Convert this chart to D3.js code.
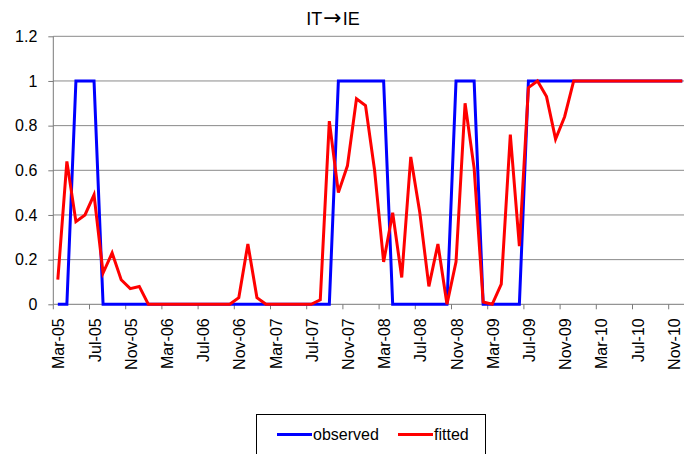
<!DOCTYPE html>
<html>
<head>
<meta charset="utf-8">
<script src="https://cdn.jsdelivr.net/npm/d3@7"></script>
<style>
  html, body { margin: 0; padding: 0; background: #fff; }
  svg { display: block; font-family: "Liberation Sans", Arial, sans-serif; }
</style>
</head>
<body>
<svg id="chart" width="684" height="454"></svg>
<script>
const titleParts = ["IT", "\u2192", "IE"];

const months = [
  "Mar-05","Apr-05","May-05","Jun-05","Jul-05","Aug-05","Sep-05","Oct-05","Nov-05","Dec-05",
  "Jan-06","Feb-06","Mar-06","Apr-06","May-06","Jun-06","Jul-06","Aug-06","Sep-06","Oct-06","Nov-06","Dec-06",
  "Jan-07","Feb-07","Mar-07","Apr-07","May-07","Jun-07","Jul-07","Aug-07","Sep-07","Oct-07","Nov-07","Dec-07",
  "Jan-08","Feb-08","Mar-08","Apr-08","May-08","Jun-08","Jul-08","Aug-08","Sep-08","Oct-08","Nov-08","Dec-08",
  "Jan-09","Feb-09","Mar-09","Apr-09","May-09","Jun-09","Jul-09","Aug-09","Sep-09","Oct-09","Nov-09","Dec-09",
  "Jan-10","Feb-10","Mar-10","Apr-10","May-10","Jun-10","Jul-10","Aug-10","Sep-10","Oct-10","Nov-10","Dec-10"
];

const tickLabels = ["Mar-05","Jul-05","Nov-05","Mar-06","Jul-06","Nov-06","Mar-07","Jul-07","Nov-07",
  "Mar-08","Jul-08","Nov-08","Mar-09","Jul-09","Nov-09","Mar-10","Jul-10","Nov-10"];

const yTicks = [0, 0.2, 0.4, 0.6, 0.8, 1, 1.2];

const observed = [
  0,0,1,1,1,0,0,0,0,0,
  0,0,0,0,0,0,0,0,0,0,0,0,
  0,0,0,0,0,0,0,0,0,1,1,1,
  1,1,1,0,0,0,0,0,0,0,1,1,
  1,0,0,0,0,0,1,1,1,1,1,1,
  1,1,1,1,1,1,1,1,1,1,1,1
];

const fitted = [
  0.11,0.64,0.37,0.40,0.49,0.14,0.23,0.11,0.07,0.08,
  0,0,0,0,0,0,0,0,0,0,0.03,0.27,
  0.03,0,0,0,0,0,0,0.02,0.82,0.50,0.62,0.92,
  0.89,0.60,0.19,0.41,0.12,0.66,0.41,0.08,0.27,0,0.19,0.90,
  0.61,0.01,0,0.09,0.76,0.26,0.97,1.00,0.93,0.74,0.84,1,
  1,1,1,1,1,1,1,1,1,1,1,1
];

const seriesNames = ["observed", "fitted"];
const seriesColors = ["#0000ff", "#ff0000"];

const svg = d3.select("#chart");
const plotLeft = 53.3, plotTop = 36.3, plotBottom = 304.3;
const step = 9.05;

const x = d3.scaleBand().domain(months).range([plotLeft, plotLeft + step * months.length]).padding(0);
const y = d3.scaleLinear().domain([0, 1.2]).range([plotBottom, plotTop]);
const bw = x.bandwidth();

// gridlines
svg.append("g").selectAll("line").data(yTicks.filter(d => d > 0)).join("line")
  .attr("x1", plotLeft).attr("x2", x.range()[1])
  .attr("y1", d => y(d)).attr("y2", d => y(d))
  .attr("stroke", "#8a8a8a").attr("stroke-width", 1);

// y axis
const yAxis = svg.append("g").attr("transform", `translate(${plotLeft},0)`)
  .call(d3.axisLeft(y).tickValues(yTicks).tickFormat(d => String(+d.toFixed(1))).tickSize(5).tickPadding(11));
yAxis.select(".domain").attr("stroke", "#7a7a7a").attr("d", `M0,${plotBottom}V${plotTop}`);
yAxis.selectAll(".tick line").attr("stroke", "#7a7a7a");
yAxis.selectAll("text").attr("font-size", 16).attr("fill", "#000")
  .attr("font-family", "Liberation Sans, Arial, sans-serif");

// x axis
const xAxis = svg.append("g").attr("transform", `translate(0,${plotBottom})`)
  .call(d3.axisBottom(x).tickValues(tickLabels).tickSize(5).tickSizeOuter(0));
xAxis.select(".domain").attr("stroke", "#7a7a7a").attr("d", `M${plotLeft},0H${x.range()[1]}`);
xAxis.selectAll(".tick line").attr("stroke", "#7a7a7a").attr("transform", `translate(${-bw / 2},0)`);
xAxis.selectAll(".tick text")
  .attr("font-size", 16).attr("fill", "#000")
  .attr("font-family", "Liberation Sans, Arial, sans-serif")
  .attr("transform", "rotate(-90)")
  .attr("text-anchor", "end")
  .attr("dy", "0.35em")
  .attr("x", -14).attr("y", 1);

// lines
const line = d3.line().x((d, i) => x(months[i]) + bw / 2).y(d => y(d));
[observed, fitted].forEach((s, k) => {
  svg.append("path").datum(s)
    .attr("fill", "none").attr("stroke", seriesColors[k])
    .attr("stroke-width", 3).attr("stroke-linejoin", "miter")
    .attr("d", line);
});

// title
const t = svg.append("text").attr("x", 333).attr("y", 25).attr("text-anchor", "middle")
  .attr("font-size", 18).attr("fill", "#000");
t.append("tspan").text(titleParts[0]);
t.append("tspan").attr("font-family", "DejaVu Sans").attr("font-size", 22).attr("dx", 1).text(titleParts[1]);
t.append("tspan").attr("dx", 1).text(titleParts[2]);

// legend
const lg = svg.append("g");
lg.append("rect").attr("x", 256.5).attr("y", 414.5).attr("width", 229).attr("height", 60)
  .attr("fill", "#fff").attr("stroke", "#000").attr("stroke-width", 1);
const legX = [277, 398];
seriesNames.forEach((n, k) => {
  lg.append("line").attr("x1", legX[k]).attr("x2", legX[k] + 35)
    .attr("y1", 434.5).attr("y2", 434.5)
    .attr("stroke", seriesColors[k]).attr("stroke-width", 3);
  lg.append("text").attr("x", legX[k] + 36).attr("y", 440)
    .attr("font-size", 16).attr("fill", "#000").text(n);
});
</script>
</body>
</html>
